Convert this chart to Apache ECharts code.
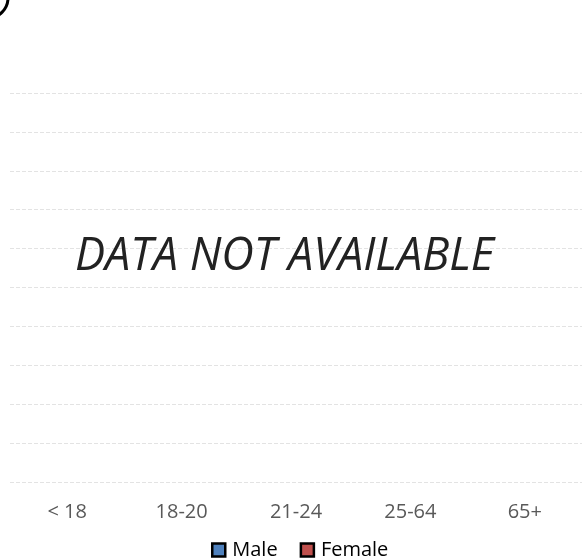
<!DOCTYPE html>
<html>
<head>
<meta charset="utf-8">
<script src="https://cdn.jsdelivr.net/npm/echarts@6/dist/echarts.min.js"></script>
<style>
html,body{margin:0;padding:0;background:#fff;}
#chart{width:582px;height:559px;}
</style>
</head>
<body>
<div id="chart"></div>
<script>
// Data (no values available in the reference)
var categories = ['< 18', '18-20', '21-24', '25-64', '65+'];
var maleValues = [null, null, null, null, null];
var femaleValues = [null, null, null, null, null];
var seriesNames = ['Male', 'Female'];
var noDataText = 'DATA NOT AVAILABLE';

var chart = echarts.init(document.getElementById('chart'), null, {renderer: 'canvas'});
chart.setOption({
  animation: false,
  backgroundColor: '#ffffff',
  grid: {left: 10, top: 93, width: 578, height: 389, containLabel: false},
  xAxis: {
    type: 'category',
    data: categories,
    axisLine: {show: false},
    axisTick: {show: false},
    axisLabel: {color: '#595959', fontFamily: 'Open Sans', fontSize: 20, margin: 20},
    splitLine: {show: false}
  },
  yAxis: {
    type: 'value',
    min: 0, max: 10, interval: 1,
    axisLine: {show: false},
    axisTick: {show: false},
    axisLabel: {show: false},
    splitLine: {show: true, lineStyle: {color: '#e3e3e3', type: [4, 2], width: 1}}
  },
  legend: {
    data: seriesNames,
    left: 211,
    top: 540,
    padding: 0,
    itemWidth: 13,
    itemHeight: 13,
    itemGap: 22,
    icon: 'rect',
    itemStyle: {borderColor: '#000', borderWidth: 2.5},
    textStyle: {color: '#000', fontFamily: 'Open Sans', fontSize: 20, padding: [0, 0, 0, 2]}
  },
  series: [
    {name: seriesNames[0], type: 'bar', data: maleValues,
     itemStyle: {color: '#4F81BD', borderColor: '#000', borderWidth: 2}},
    {name: seriesNames[1], type: 'bar', data: femaleValues,
     itemStyle: {color: '#C0504D', borderColor: '#000', borderWidth: 2}}
  ],
  graphic: [
    {type: 'text', x: 284.5, y: 257, z: 10,
     style: {text: noDataText, fill: '#222', font: 'italic 45px "Open Sans"', textAlign: 'center', textVerticalAlign: 'middle'}},
    {type: 'circle', shape: {cx: -12, cy: -2, r: 20}, z: 10,
     style: {fill: 'none', stroke: '#000', lineWidth: 3}}
  ]
});
</script>
</body>
</html>
